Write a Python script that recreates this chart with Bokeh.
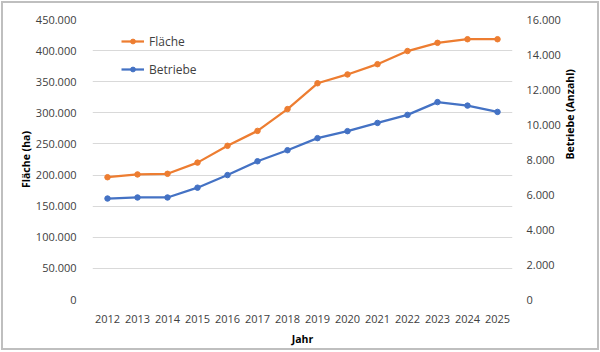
import math
from bokeh.plotting import figure
from bokeh.models import Range1d, LinearAxis, FixedTicker, CustomJSTickFormatter, Legend, LegendItem
from bokeh.layouts import column
from bokeh.embed import file_html
from bokeh.resources import INLINE

years = ["2012", "2013", "2014", "2015", "2016", "2017", "2018", "2019", "2020", "2021", "2022", "2023", "2024", "2025"]
flaeche = [196500, 201000, 202000, 220000, 247000, 271000, 306000, 347500, 361700, 378200, 399300, 412500, 418300, 418300]
betriebe = [5770, 5830, 5830, 6390, 7110, 7900, 8530, 9220, 9620, 10090, 10550, 11280, 11080, 10720]
left_ticks = [0, 50000, 100000, 150000, 200000, 250000, 300000, 350000, 400000, 450000]
right_ticks = [0, 2000, 4000, 6000, 8000, 10000, 12000, 14000, 16000]

FONT = "Open Sans"
ORANGE = "#ED7D31"
BLUE = "#4472C4"

p = figure(width=594, height=345, x_range=years, y_range=Range1d(0, 450000),
           output_backend="svg", toolbar_location=None,
           min_border_left=89, min_border_right=85, min_border_top=16, min_border_bottom=45)
p.extra_y_ranges = {"right": Range1d(0, 16000)}
p.outline_line_color = None
p.background_fill_color = "white"
p.border_fill_color = "white"

fmt = CustomJSTickFormatter(code="return Math.round(tick).toString().replace(/\\B(?=(\\d{3})+(?!\\d))/g, '.');")

p.yaxis[0].ticker = FixedTicker(ticks=left_ticks)
p.yaxis[0].formatter = fmt
p.yaxis[0].axis_label = "Fläche (ha)"

ra = LinearAxis(y_range_name="right", ticker=FixedTicker(ticks=right_ticks), formatter=fmt,
                axis_label="Betriebe (Anzahl)")
if "axis_label_orientation" in ra.properties():
    ra.axis_label_orientation = math.pi / 2
p.add_layout(ra, "right")

p.xaxis.axis_label = "Jahr"

for ax in [p.yaxis[0], ra, p.xaxis[0]]:
    ax.axis_line_color = None
    ax.major_tick_line_color = None
    ax.minor_tick_line_color = None
    ax.major_label_text_font = FONT
    ax.major_label_text_font_size = "11px"
    ax.major_label_text_color = "#404040"
    ax.axis_label_text_font = FONT
    ax.axis_label_text_font_size = "10.5px"
    ax.axis_label_text_font_style = "bold"
    ax.axis_label_text_color = "#000000"

p.yaxis[0].major_label_standoff = 10
ra.major_label_standoff = 8
p.xaxis[0].major_label_standoff = 9
p.yaxis[0].axis_label_standoff = 0
ra.axis_label_standoff = 6
p.xaxis[0].axis_label_standoff = 6

p.xgrid.grid_line_color = None
p.ygrid.grid_line_color = "#D9D9D9"
p.ygrid.grid_line_width = 1
p.ygrid.ticker = FixedTicker(ticks=left_ticks)

l1 = p.line(years, flaeche, line_color=ORANGE, line_width=2.25)
s1 = p.scatter(years, flaeche, size=5.5, fill_color=ORANGE, line_color=ORANGE)
l2 = p.line(years, betriebe, line_color=BLUE, line_width=2.25, y_range_name="right")
s2 = p.scatter(years, betriebe, size=5.5, fill_color=BLUE, line_color=BLUE, y_range_name="right")

legend = Legend(items=[LegendItem(label="Fläche", renderers=[l1, s1]),
                       LegendItem(label="Betriebe", renderers=[l2, s2])],
                location=(29, 220))
legend.border_line_color = None
legend.background_fill_alpha = 0
legend.padding = 0
legend.margin = 0
legend.spacing = 8
legend.glyph_width = 23
legend.glyph_height = 12
legend.label_height = 20
legend.label_standoff = 5
legend.label_text_font = FONT
legend.label_text_font_size = "12px"
legend.label_text_color = "#404040"
p.add_layout(legend, "center")

layout = column(p, styles={"border": "2px solid #BFBFBF", "margin": "1px"})

open("out.html", "w").write(file_html(layout, INLINE))
